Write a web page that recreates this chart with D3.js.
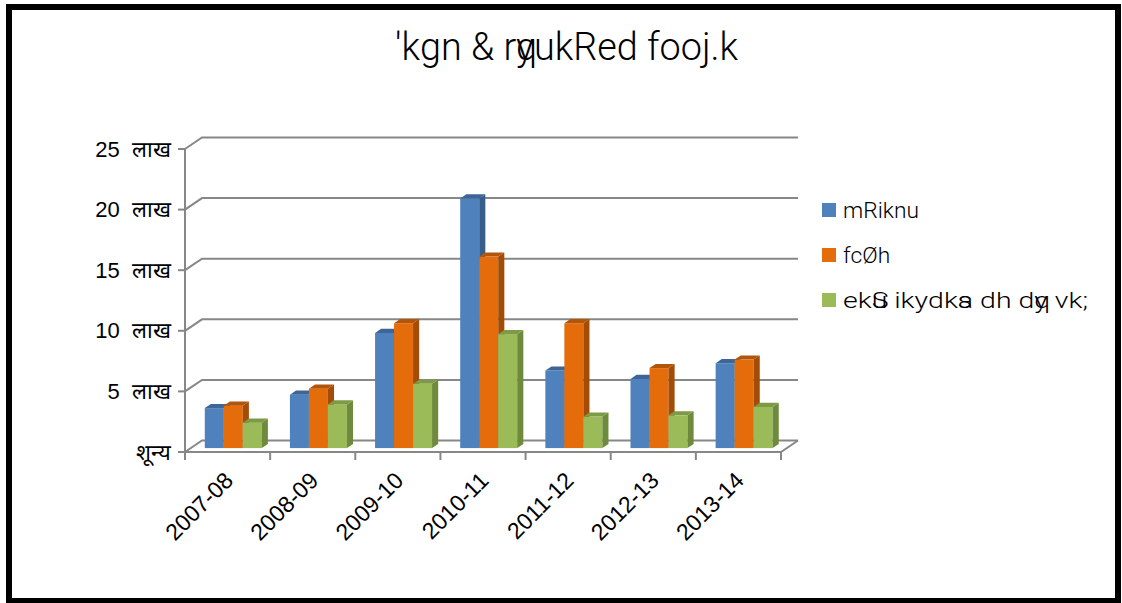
<!DOCTYPE html>
<html>
<head>
<meta charset="utf-8">
<title>d3</title>
<script src="https://d3js.org/d3.v7.min.js"></script>
<style>
  body { margin: 0; background: #fff; }
</style>
</head>
<body>
<svg class="bar-chart"></svg>
<script>

    var categories = ["2007-08", "2008-09", "2009-10", "2010-11", "2011-12", "2012-13", "2013-14"];
    var seriesNames = ["mRiknu", "fcØh", "ekSu ikydksa dh dqy vk;"];
    var production = [3.3, 4.4, 9.5, 20.6, 6.4, 5.7, 7.0];
    var sales = [3.5, 4.9, 10.3, 15.8, 10.3, 6.6, 7.3];
    var income = [2.1, 3.6, 5.3, 9.4, 2.6, 2.7, 3.4];
    var yTicks = [0, 5, 10, 15, 20, 25];
    var yTickLabels = ["शून्य", "5  लाख", "10  लाख", "15  लाख", "20  लाख", "25  लाख"];
    var title = "'kgn & rqyukRed fooj.k";

    var series = [production, sales, income];
    var fronts = ["#4F81BD", "#E46C0A", "#9BBB59"];
    var sides = ["#385D8A", "#A24C07", "#6E8A3C"];
    var tops = ["#3D6597", "#B35508", "#7D9B45"];

    var svgWidth = 1122, svgHeight = 603;
    var svg = d3.select('svg')
        .attr('width', svgWidth)
        .attr('height', svgHeight)
        .style('font-family', 'Arial, "Liberation Sans", sans-serif');

    // chart frame
    svg.append('rect')
        .attr('x', 9).attr('y', 7)
        .attr('width', 1109).attr('height', 594)
        .attr('fill', '#fff')
        .attr('stroke', '#000')
        .attr('stroke-width', 6);

    // 3d plot geometry
    var dx = 17, dy = -11.5;          // full depth offset of the back wall
    var barFront = 0.34, barDepth = 0.36;

    var x = d3.scaleBand().domain(categories).range([185, 781]);
    var xs = d3.scaleBand().domain(d3.range(series.length)).range([14, 71]);
    var y = d3.scaleLinear().domain([0, 25]).range([452, 149]);

    var grid = svg.append('g')
        .attr('stroke', '#878787')
        .attr('stroke-width', 2)
        .attr('fill', 'none');

    // back wall gridlines + left wall diagonals
    grid.selectAll('.back')
        .data(yTicks)
        .enter()
        .append('polyline')
        .attr('points', function (d) {
            return [[185, y(d)], [185 + dx, y(d) + dy], [798, y(d) + dy]].join(' ');
        });

    // floor
    grid.append('polyline')
        .attr('points', [[185, y(0)], [781, y(0)], [781 + dx, y(0) + dy]].join(' '));

    // value axis
    grid.append('line')
        .attr('x1', 185).attr('x2', 185)
        .attr('y1', y(25)).attr('y2', y(0));
    grid.selectAll('.ytick')
        .data(yTicks)
        .enter()
        .append('line')
        .attr('x1', 178).attr('x2', 185)
        .attr('y1', function (d) { return y(d); })
        .attr('y2', function (d) { return y(d); });

    // category ticks
    var bounds = categories.map(function (c) { return x(c); }).concat([x.range()[1]]);
    grid.selectAll('.xtick')
        .data(bounds)
        .enter()
        .append('line')
        .attr('x1', function (d) { return d; })
        .attr('x2', function (d) { return d; })
        .attr('y1', y(0)).attr('y2', y(0) + 8);

    // bars
    var bars = svg.append('g');
    categories.forEach(function (c, i) {
        series.forEach(function (s, j) {
            var l = x(c) + xs(j) + barFront * dx;
            var r = l + xs.bandwidth();
            var b = y(0) + barFront * dy;
            var t = y(s[i]) + barFront * dy;
            var ox = barDepth * dx, oy = barDepth * dy;
            var g = bars.append('g');
            g.append('rect')
                .attr('x', l).attr('y', t)
                .attr('width', r - l).attr('height', b - t)
                .attr('fill', fronts[j]);
            g.append('polygon')
                .attr('points', [[r, t], [r + ox, t + oy], [r + ox, b + oy], [r, b]].join(' '))
                .attr('fill', sides[j]);
            g.append('polygon')
                .attr('points', [[l, t], [r, t], [r + ox, t + oy], [l + ox, t + oy]].join(' '))
                .attr('fill', tops[j]);
        });
    });

    // value labels
    svg.selectAll('.ylab')
        .data(yTicks)
        .enter()
        .append('text')
        .attr('x', 171)
        .attr('y', function (d) { return y(d) + 7.5; })
        .attr('text-anchor', 'end')
        .attr('font-size', 22)
        .attr('fill', '#000')
        .style('white-space', 'pre')
        .text(function (d, i) { return yTickLabels[i]; });

    // category labels
    svg.selectAll('.xlab')
        .data(categories)
        .enter()
        .append('text')
        .attr('transform', function (d) {
            return 'translate(' + (x(d) + x.bandwidth() / 2 + 7) + ',' + 482 + ') rotate(-45)';
        })
        .attr('text-anchor', 'end')
        .attr('font-size', 23)
        .attr('fill', '#000')
        .text(function (d) { return d; });

    // text in a legacy font: the matras q, s, S take no advance
    var narrow = 'Roboto, "Liberation Sans", Arial, sans-serif';
    function legacyText(sel, str) {
        var shift = 0;
        for (var i = 0; i < str.length; i++) {
            var ch = str[i];
            var t = sel.append('tspan').text(ch);
            if (shift) t.attr('dx', -shift);
            shift = 0;
            if ('qsS'.indexOf(ch) >= 0) shift = t.node().getComputedTextLength();
        }
    }
    function fitText(sel, left, base, width) {
        var w = sel.node().getBBox().width;
        sel.attr('transform', 'translate(' + left + ',' + base + ') scale(' + (width / w) + ',1)');
    }

    var titleText = svg.append('text')
        .attr('font-size', 38)
        .attr('font-weight', 300)
        .attr('fill', '#000')
        .style('font-family', narrow)
        .style('white-space', 'pre');
    legacyText(titleText, title);
    fitText(titleText, 395, 60, 343);

    // legend
    var legendY = [210, 255, 300];
    var legendW = [76, 47, 245];
    seriesNames.forEach(function (name, j) {
        svg.append('rect')
            .attr('x', 822).attr('y', legendY[j] - 7)
            .attr('width', 14).attr('height', 14)
            .attr('fill', fronts[j]);
        var lt = svg.append('text')
            .attr('font-size', 22)
            .attr('font-weight', 300)
            .attr('fill', '#000')
            .style('font-family', narrow)
            .style('white-space', 'pre');
        legacyText(lt, name);
        fitText(lt, 843, legendY[j] + 8, legendW[j]);
    });

</script>
</body>
</html>
